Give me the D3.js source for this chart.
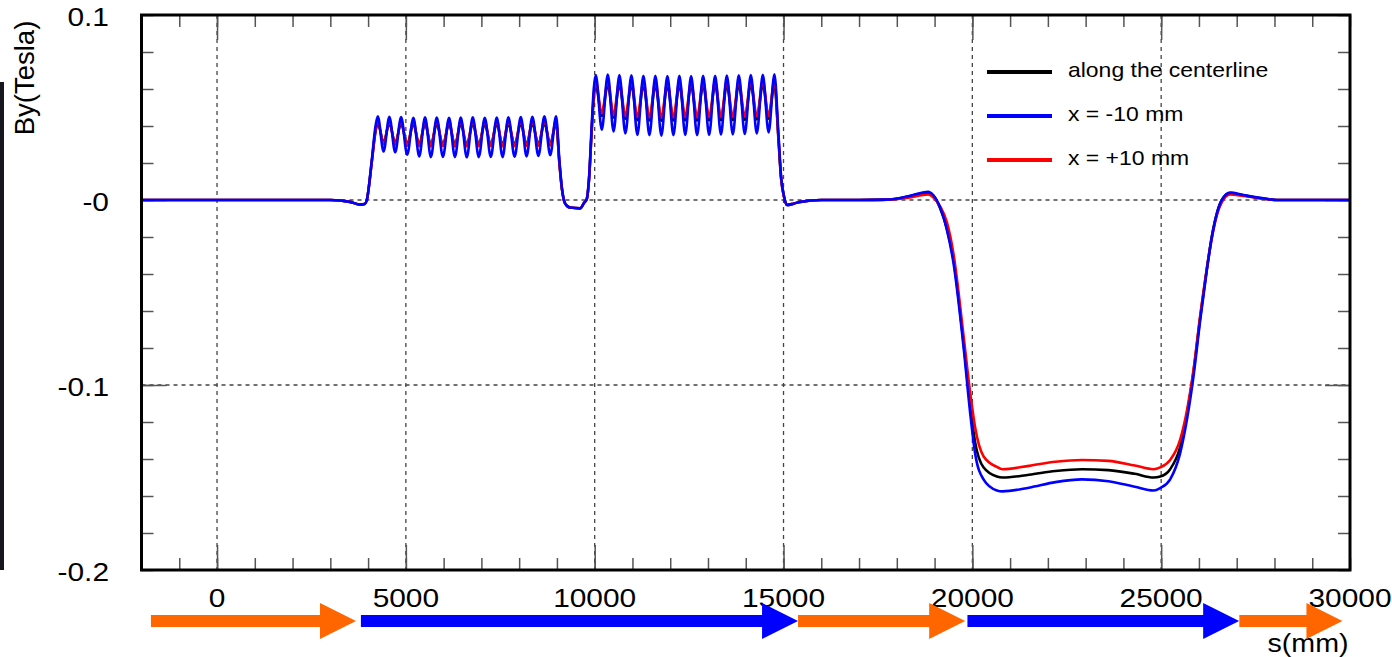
<!DOCTYPE html>
<html lang="en">
<head>
<meta charset="UTF-8">
<title>By along s</title>
<style>
    body { margin: 0; background: #fff; }
    text { font-family: "Liberation Sans", Arial, sans-serif; fill: #000; }
</style>
</head>
<body>
<div id="content"></div>
<script src="https://d3js.org/d3.v7.min.js"></script>
<script>

// knot positions along the beam line (mm)
var sPos = [
    -2000, 3000, 3520, 3790, 3920, 3966, 4100, 4190,
    4256, 4410, 4563, 4718, 4873, 5036, 5199, 5354, 5508, 5663, 5818, 5981, 6144, 6299, 6454, 6613,
    6772, 6931, 7090, 7249, 7407, 7561, 7715, 7879, 8043, 8197, 8350, 8509, 8668, 8823, 8978,
    9065, 9129, 9216, 9348, 9613, 9720, 9790, 9850, 9920, 9975,
    10029, 10188, 10347, 10500, 10654, 10813, 10972, 11131, 11290, 11449, 11607, 11766, 11925, 12084, 12243, 12398,
    12553, 12712, 12871, 13030, 13189, 13344, 13499, 13657, 13816, 13975, 14134, 14293, 14452, 14605, 14759,
    14865, 14936, 15016, 15087, 15262, 15440, 16000,
    17000, 17750, 18300, 18830, 18962, 19147, 19325, 19500, 19765, 19942,
    20074, 20295, 20650, 20800, 21500, 22200, 22900, 23600, 24300, 24800,
    24974, 25238, 25503, 25680, 25855, 26033, 26210, 26343, 26475, 26607,
    26827, 27180, 27710, 28065, 30000
];

// By (Tesla) along the centerline
var byCenter = [
    0, 0, -0.001, -0.0025, -0.002, 0.0, 0.021, 0.036,
    .0415, .0312, .0413, .0308, .0412, .0302, .0410, .0300, .0411, .0298, .0410, .0299, .0410, .0298, .0411, .0298,
    .0411, .0299, .0410, .0299, .0411, .0298, .0411, .0299, .0412, .0300, .0413, .0301, .0414, .0303, .0416,
    .020, .0065, -.0018, -.0041, -.0045, -.0015, .0005, .011, .037, .055,
    .0620, .0455, .0623, .0445, .0622, .0438, .0621, .0432, .0620, .0430, .0619, .0429, .0619, .0430, .0620, .0431,
    .0619, .0430, .0620, .0431, .0621, .0432, .0621, .0433, .0622, .0434, .0623, .0436, .0624, .0440, .0626,
    .033, .0115, .0015, -.0027, -.002, -.001, 0,
    0, .0002, .0018, .004, .0025, -.0045, -.0155, -.032, -.077, -.111,
    -.131, -.1445, -.1495, -.150, -.1485, -.1465, -.1455, -.146, -.148, -.150,
    -.1495, -.1455, -.1335, -.116, -.093, -.0635, -.037, -.0195, -.0072, 0,
    .0037, .0025, .0008, 0, 0
];

// By at x = -10 mm
var byMinus10 = [
    0, 0, -0.001, -0.0025, -0.002, 0.0, 0.022, 0.039,
    .0452, .0262, .0450, .0258, .0448, .0245, .0445, .0236, .0447, .0232, .0446, .0233, .0445, .0232, .0446, .0231,
    .0447, .0232, .0445, .0233, .0446, .0232, .0447, .0234, .0448, .0236, .0450, .0238, .0452, .0242, .0453,
    .0216, .007, -.0018, -.0041, -.0045, -.0015, .0005, .012, .040, .060,
    .0675, .0380, .0678, .0370, .0676, .0360, .0674, .0352, .0672, .0350, .0671, .0348, .0670, .0350, .0671, .0352,
    .0670, .0350, .0671, .0352, .0672, .0354, .0673, .0355, .0674, .0357, .0676, .0360, .0677, .0365, .0680,
    .036, .0126, .0018, -.0027, -.002, -.001, 0,
    0, .0002, .002, .0045, .0027, -.004, -.016, -.034, -.079, -.115,
    -.137, -.151, -.157, -.1575, -.1555, -.1525, -.151, -.152, -.155, -.157,
    -.1557, -.151, -.1368, -.119, -.0955, -.065, -.0378, -.0199, -.0072, 0,
    .004, .0027, .0009, 0, 0
];

// By at x = +10 mm
var byPlus10 = [
    0, 0, -0.001, -0.0025, -0.002, 0.0, 0.021, 0.037,
    .0428, .0302, .0426, .0298, .0425, .0293, .0424, .0291, .0425, .0290, .0424, .0291, .0424, .0290, .0425, .0290,
    .0425, .0291, .0424, .0291, .0425, .0290, .0425, .0291, .0426, .0292, .0427, .0293, .0428, .0295, .0430,
    .020, .0065, -.0018, -.0041, -.0045, -.0015, .0005, .011, .038, .057,
    .0638, .0468, .0641, .0460, .0640, .0453, .0639, .0448, .0638, .0446, .0637, .0445, .0637, .0446, .0638, .0447,
    .0637, .0446, .0638, .0447, .0639, .0448, .0639, .0449, .0640, .0450, .0641, .0452, .0642, .0455, .0645,
    .034, .012, .0015, -.0027, -.002, -.001, 0,
    0, .0001, .0012, .003, .0015, -.0035, -.012, -.029, -.073, -.104,
    -.123, -.1385, -.1443, -.1455, -.1437, -.1415, -.1405, -.141, -.1435, -.1455,
    -.1445, -.1405, -.1295, -.114, -.092, -.0625, -.037, -.0205, -.0082, -.0012,
    .003, .0022, .0007, 0, 0
];

var xTicks = [0, 5000, 10000, 15000, 20000, 25000, 30000];
var yTicks = [0.1, 0, -0.1, -0.2];
var yTickLabels = ["0.1", "-0", "-0.1", "-0.2"];
var legendLabels = ["along the centerline", "x = -10 mm", "x = +10 mm"];

// element sequence drawn under the axis (s in mm)
var arrowFrom = [-1750, 3810, 15385, 19870, 27070];
var arrowTo = [3680, 15385, 19810, 27065, 29800];
var arrowColor = ["#ff6600", "#0000ff", "#ff6600", "#0000ff", "#ff6600"];

var W = 1392, H = 657;
var pLeft = 141.5, pRight = 1350, pTop = 15, pBottom = 570;

var svg = d3.select("#content").append("svg")
    .attr("width", W).attr("height", H);

var x = d3.scaleLinear().domain([-2000, 30000]).range([pLeft, pRight]);
var y = d3.scaleLinear().domain([-0.2, 0.1]).range([pBottom, pTop]);

// dark strip at the left edge
svg.append("rect")
    .attr("x", 0).attr("y", 82).attr("width", 4).attr("height", pBottom - 82)
    .style("fill", "#16161e");

// grid
svg.append("g").selectAll("line")
    .data(xTicks.slice(0, -1))
    .join("line")
    .attr("x1", d => x(d)).attr("x2", d => x(d))
    .attr("y1", pTop).attr("y2", pBottom)
    .style("stroke", "#444").style("stroke-width", 1.3).style("stroke-dasharray", "4,4");

svg.append("g").selectAll("line")
    .data([0, -0.1])
    .join("line")
    .attr("x1", pLeft).attr("x2", pRight)
    .attr("y1", d => y(d)).attr("y2", d => y(d))
    .style("stroke", "#444").style("stroke-width", 1.3).style("stroke-dasharray", "4,4");

// ticks on all four sides
var xMinor = d3.range(-2000, 30001, 1000);
var yMinor = d3.range(-0.2, 0.1001, 0.02);
var yMajor = [0, -0.1];

function tickAxis(axis, tx, ty) {
    var g = svg.append("g")
        .attr("transform", "translate(" + tx + "," + ty + ")")
        .call(axis);
    g.select(".domain").remove();
    g.selectAll(".tick line").style("stroke", "#555").style("stroke-width", 1.5);
    g.selectAll(".tick text").remove();
}

tickAxis(d3.axisBottom(x).tickValues(xMinor).tickSize(-12), 0, pBottom);
tickAxis(d3.axisTop(x).tickValues(xMinor).tickSize(-12), 0, pTop);
tickAxis(d3.axisBottom(x).tickValues(xTicks.slice(0, -1)).tickSize(-25), 0, pBottom);
tickAxis(d3.axisTop(x).tickValues(xTicks.slice(0, -1)).tickSize(-25), 0, pTop);
tickAxis(d3.axisLeft(y).tickValues(yMinor).tickSize(-12), pLeft, 0);
tickAxis(d3.axisRight(y).tickValues(yMinor).tickSize(-12), pRight, 0);
tickAxis(d3.axisLeft(y).tickValues(yMajor).tickSize(-25), pLeft, 0);
tickAxis(d3.axisRight(y).tickValues(yMajor).tickSize(-25), pRight, 0);

// curves
svg.append("clipPath").attr("id", "plotclip")
    .append("rect").attr("x", pLeft).attr("y", pTop)
    .attr("width", pRight - pLeft).attr("height", pBottom - pTop);

var idx = d3.range(sPos.length);
function curve(vals) {
    return d3.line()
        .x(i => x(sPos[i]))
        .y(i => y(vals[i]))
        .curve(d3.curveMonotoneX)(idx);
}

var series = [
    { vals: byCenter, color: "#000000" },
    { vals: byPlus10, color: "#ff0000" },
    { vals: byMinus10, color: "#0000ff" }
];

svg.append("g").attr("clip-path", "url(#plotclip)")
    .selectAll("path")
    .data(series)
    .join("path")
    .attr("d", d => curve(d.vals))
    .style("fill", "none")
    .style("stroke", d => d.color)
    .style("stroke-width", 2.6)
    .style("stroke-linejoin", "round");

// frame
svg.append("rect")
    .attr("x", pLeft).attr("y", pTop)
    .attr("width", pRight - pLeft).attr("height", pBottom - pTop)
    .style("fill", "none").style("stroke", "#000").style("stroke-width", 3);

// tick labels
svg.append("g").selectAll("text")
    .data(xTicks)
    .join("text")
    .attr("transform", d => "translate(" + x(d) + ",607) scale(1.15,1)")
    .attr("text-anchor", "middle")
    .style("font-size", "26px")
    .text(d => d);

svg.append("g").selectAll("text")
    .data(yTicks)
    .join("text")
    .attr("transform", d => "translate(109," + (y(d) + 11) + ") scale(1.15,1)")
    .attr("text-anchor", "end")
    .style("font-size", "26px")
    .text((d, i) => yTickLabels[i]);

svg.append("text")
    .attr("transform", "translate(34,78) rotate(-90)")
    .attr("text-anchor", "middle")
    .style("font-size", "27.5px")
    .text("By(Tesla)");

svg.append("text")
    .attr("transform", "translate(1308,652) scale(1.1,1)")
    .attr("text-anchor", "middle")
    .style("font-size", "26px")
    .text("s(mm)");

// legend
var legendColors = ["#000000", "#0000ff", "#ff0000"];
var legendY = [72, 116, 160];
var lg = svg.append("g");
lg.selectAll("line")
    .data(legendLabels)
    .join("line")
    .attr("x1", 987).attr("x2", 1052)
    .attr("y1", (d, i) => legendY[i]).attr("y2", (d, i) => legendY[i])
    .style("stroke", (d, i) => legendColors[i]).style("stroke-width", 4);
lg.selectAll("text")
    .data(legendLabels)
    .join("text")
    .attr("transform", (d, i) => "translate(1068," + (legendY[i] + 5) + ") scale(1.12,1)")
    .style("font-size", "20.5px")
    .text(d => d);

// arrows below the axis
var cy = 621, shaft = 6, head = 18, headLen = 36;
svg.append("g").selectAll("path")
    .data(arrowFrom)
    .join("path")
    .attr("d", function (d, i) {
        var x0 = x(d), xt = x(arrowTo[i]), xb = xt - headLen;
        return "M" + x0 + "," + (cy - shaft) +
            "L" + xb + "," + (cy - shaft) +
            "L" + xb + "," + (cy - head) +
            "L" + xt + "," + cy +
            "L" + xb + "," + (cy + head) +
            "L" + xb + "," + (cy + shaft) +
            "L" + x0 + "," + (cy + shaft) + "Z";
    })
    .style("fill", (d, i) => arrowColor[i]);

</script>
</body>
</html>
